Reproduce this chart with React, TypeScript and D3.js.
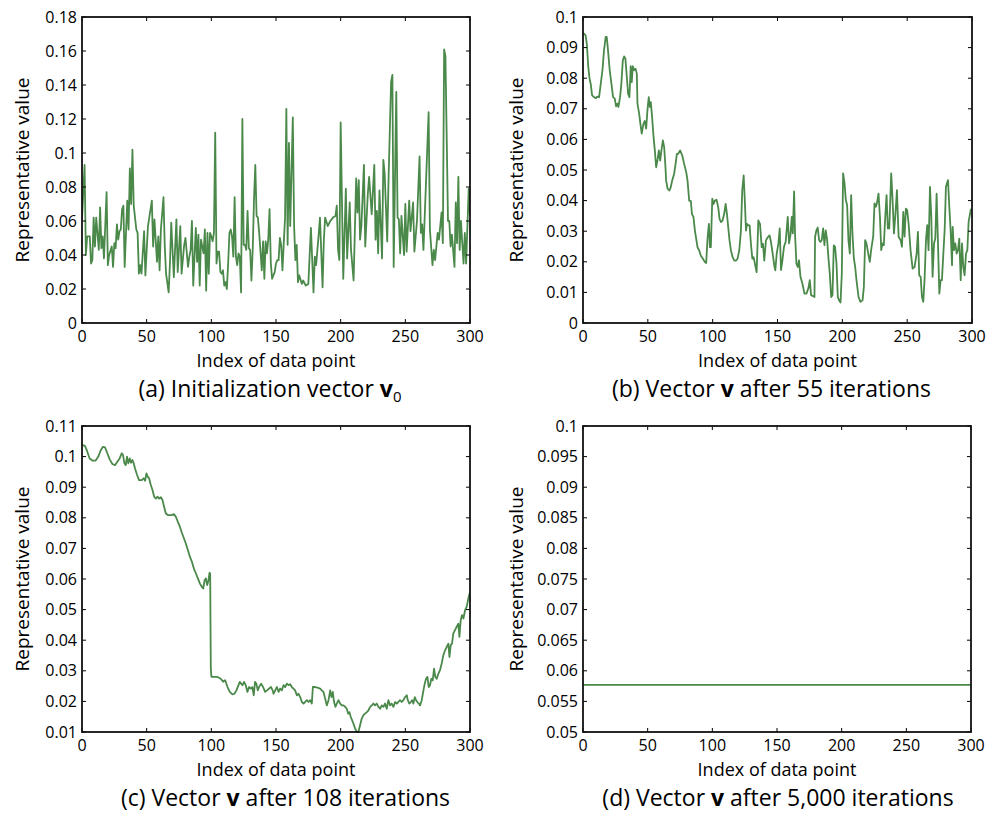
import React from "react";
import * as d3 from "d3";

// ---------- data ----------
const xTicks = [0, 50, 100, 150, 200, 250, 300];
const yTicksA = [0, 0.02, 0.04, 0.06, 0.08, 0.1, 0.12, 0.14, 0.16, 0.18];
const yTicksB = [0, 0.01, 0.02, 0.03, 0.04, 0.05, 0.06, 0.07, 0.08, 0.09, 0.1];
const yTicksC = [0.01, 0.02, 0.03, 0.04, 0.05, 0.06, 0.07, 0.08, 0.09, 0.1, 0.11];
const yTicksD = [0.05, 0.055, 0.06, 0.065, 0.07, 0.075, 0.08, 0.085, 0.09, 0.095, 0.1];

// (a) initialization vector v0  [index, value]
const seriesA: [number, number][] = [
  [0,0.061],[2,0.093],[3,0.040],[4,0.051],[6,0.051],[7,0.035],[8,0.037],[9,0.062],[10,0.045],[11,0.062],
  [13,0.043],[14,0.068],[15,0.044],[16,0.051],[17,0.038],[19,0.077],[20,0.034],[21,0.040],[23,0.045],[24,0.033],
  [25,0.047],[26,0.044],[27,0.058],[28,0.049],[29,0.054],[30,0.055],[31,0.067],[32,0.069],[33,0.033],[35,0.072],
  [36,0.055],[37,0.091],[38,0.070],[39,0.102],[40,0.069],[42,0.055],[43,0.053],[44,0.029],[45,0.034],[46,0.029],
  [48,0.054],[49,0.028],[51,0.057],[53,0.067],[54,0.072],[55,0.045],[56,0.061],[58,0.036],[59,0.051],[60,0.031],
  [61,0.055],[63,0.074],[64,0.045],[65,0.029],[67,0.018],[68,0.035],[69,0.059],[71,0.027],[73,0.061],[74,0.030],
  [76,0.057],[77,0.029],[79,0.046],[80,0.050],[82,0.033],[83,0.039],[84,0.043],[85,0.060],[86,0.022],[88,0.056],
  [89,0.036],[90,0.052],[91,0.022],[92,0.049],[94,0.041],[95,0.055],[96,0.019],[97,0.053],[98,0.029],[99,0.053],
  [100,0.051],[101,0.048],[102,0.053],[103,0.112],[104,0.035],[105,0.042],[106,0.042],[107,0.030],[108,0.029],[109,0.031],
  [110,0.022],[111,0.024],[112,0.020],[113,0.035],[114,0.053],[115,0.055],[116,0.051],[117,0.039],[118,0.074],[119,0.039],
  [120,0.034],[121,0.041],[122,0.039],[123,0.018],[124,0.120],[125,0.046],[126,0.046],[127,0.043],[128,0.066],[129,0.044],
  [130,0.043],[131,0.025],[132,0.043],[133,0.073],[134,0.093],[135,0.063],[136,0.062],[137,0.053],[139,0.031],[140,0.048],
  [141,0.026],[142,0.048],[143,0.041],[144,0.049],[145,0.067],[146,0.035],[147,0.026],[148,0.028],[149,0.030],[150,0.035],
  [151,0.037],[152,0.037],[153,0.050],[154,0.046],[155,0.031],[156,0.047],[157,0.062],[158,0.126],[159,0.046],[160,0.106],
  [161,0.057],[163,0.121],[164,0.057],[165,0.037],[166,0.046],[167,0.024],[168,0.028],[170,0.023],[171,0.025],[173,0.022],
  [175,0.023],[177,0.056],[179,0.018],[180,0.039],[181,0.034],[183,0.052],[184,0.062],[186,0.021],[187,0.049],[188,0.062],
  [190,0.057],[192,0.060],[194,0.062],[196,0.063],[197,0.069],[198,0.043],[199,0.037],[200,0.118],[202,0.026],[204,0.079],
  [205,0.038],[207,0.071],[208,0.043],[209,0.034],[210,0.025],[212,0.085],[213,0.065],[214,0.084],[215,0.049],[216,0.057],
  [218,0.093],[219,0.045],[221,0.076],[222,0.086],[224,0.064],[226,0.093],[227,0.049],[228,0.066],[229,0.041],[230,0.078],
  [232,0.038],[233,0.096],[234,0.088],[236,0.048],[237,0.084],[239,0.142],[240,0.146],[241,0.033],[243,0.136],[244,0.062],
  [245,0.061],[246,0.041],[247,0.063],[249,0.040],[250,0.070],[251,0.042],[253,0.072],[254,0.054],[256,0.071],[257,0.042],
  [259,0.060],[261,0.098],[262,0.053],[263,0.058],[264,0.043],[266,0.083],[268,0.124],[269,0.055],[271,0.034],[272,0.043],
  [273,0.037],[275,0.053],[276,0.049],[278,0.065],[279,0.047],[280,0.161],[281,0.157],[283,0.060],[284,0.060],[285,0.045],
  [286,0.052],[288,0.033],[289,0.071],[290,0.047],[291,0.086],[292,0.043],[293,0.060],[295,0.035],[296,0.053],[297,0.035],
  [299,0.079],[300,0.063],
];

// (b) vector v after 55 iterations
const seriesB: [number, number][] = [
  [0,0.0947],[1,0.0945],[2,0.094],[3,0.091],[4,0.084],[5,0.080],[6,0.078],[7,0.0744],[8.5,0.0738],[10,0.0735],
  [11,0.074],[12.4,0.0738],[13.7,0.0782],[15,0.0826],[16.2,0.0891],[17.5,0.0935],[18.3,0.0935],[19.3,0.0891],[20.6,0.0826],[21.9,0.0782],
  [23.2,0.0738],[24.5,0.0733],[25.5,0.0708],[26.5,0.0717],[27.3,0.0706],[28.6,0.0738],[29.6,0.0782],[30.7,0.0858],[31.7,0.0871],[32.7,0.0864],
  [33.8,0.0804],[34.8,0.0749],[35.8,0.0738],[36.8,0.0839],[37.6,0.0787],[38.4,0.0839],[39.4,0.0826],[40.5,0.0831],[41.5,0.0815],[42,0.0717],
  [43.3,0.0684],[44.6,0.064],[45.3,0.0619],[46.6,0.0651],[47.6,0.066],[48.7,0.0635],[49.7,0.0695],[50.7,0.0738],[51.5,0.0706],[52.3,0.0722],
  [53.3,0.0673],[54.4,0.0608],[55.4,0.0564],[56.4,0.0509],[57.4,0.0531],[58.5,0.0564],[59.5,0.0531],[60.5,0.0564],[61.6,0.0597],[62.6,0.0575],
  [63.6,0.0509],[64.1,0.0466],[65.2,0.0439],[66.7,0.0433],[67.7,0.0444],[68.8,0.0466],[70.3,0.0488],[71.4,0.052],[72.4,0.0553],[73.4,0.0553],
  [74.9,0.0564],[76.5,0.0548],[78,0.052],[79.6,0.0493],[80.6,0.0466],[81.9,0.04],[83.2,0.0398],[84,0.0357],[85.2,0.0346],[86.3,0.0302],
  [87.3,0.0275],[88.3,0.0248],[89.6,0.0237],[90.9,0.022],[92.5,0.021],[94,0.0199],[95,0.0196],[96.1,0.028],[97.1,0.0324],[97.9,0.0248],
  [98.6,0.0248],[99.7,0.0406],[100.7,0.0389],[101.7,0.04],[103,0.0403],[104.3,0.0378],[105.3,0.034],[106.4,0.033],[107.6,0.0335],[108.9,0.0357],
  [110,0.0389],[111,0.0357],[112,0.0313],[113,0.027],[114.1,0.0237],[115.4,0.0215],[116.7,0.0204],[117.9,0.0204],[119.2,0.021],[120.5,0.0237],
  [121.8,0.0302],[122.8,0.0433],[123.9,0.0482],[124.9,0.0389],[125.7,0.0302],[126.4,0.0324],[127.5,0.0319],[128.5,0.0319],[129.5,0.0259],[130.6,0.021],
  [131.6,0.0215],[132.6,0.0193],[133.9,0.0166],[135.2,0.0335],[136.5,0.0324],[137.8,0.0248],[138.8,0.0259],[139.8,0.0204],[141.1,0.027],[142.4,0.028],
  [143.9,0.0286],[145,0.0264],[146.3,0.0226],[147.6,0.0185],[148.3,0.0172],[149.4,0.0227],[150.7,0.026],[151.7,0.0309],[152.7,0.0173],[153.8,0.0205],
  [155,0.0249],[156.3,0.0265],[157.9,0.0347],[158.9,0.026],[160,0.0287],[161,0.0347],[161.8,0.0293],[162.8,0.043],[163.5,0.0293],[164.6,0.0194],
  [165.6,0.0183],[166.6,0.0205],[167.7,0.0151],[169.2,0.0129],[170.8,0.0096],[172.3,0.0096],[173.8,0.0113],[174.9,0.014],[175.9,0.0091],[177.2,0.0088],
  [178.5,0.0085],[179,0.0282],[180,0.0303],[181,0.0312],[182.1,0.0271],[183.1,0.0265],[184.1,0.0271],[185.2,0.0309],[186.2,0.0254],[187.2,0.0303],
  [188.3,0.0271],[189.3,0.0211],[190.3,0.0162],[191.4,0.0085],[192.4,0.0091],[193.4,0.0254],[194.4,0.0249],[195.5,0.0194],[196.5,0.0085],[197.5,0.0074],
  [198.6,0.0067],[199.6,0.0162],[200.6,0.0489],[201.7,0.0456],[202.7,0.0402],[203.7,0.0385],[204.7,0.0271],[205.8,0.0227],[206.8,0.0418],[207.8,0.0293],
  [208.9,0.0211],[209.9,0.0183],[210.9,0.014],[212.5,0.0085],[214,0.0069],[215.6,0.0074],[216.6,0.0118],[217.6,0.0271],[218.6,0.026],[220.2,0.0222],
  [221.2,0.02],[222.2,0.0238],[223.8,0.0282],[224.8,0.0391],[225.9,0.038],[226.9,0.0396],[227.9,0.0423],[229,0.0347],[230,0.0238],[231,0.026],
  [232,0.0254],[233.1,0.0347],[234.1,0.0418],[235.1,0.0309],[236.2,0.0309],[237.7,0.0489],[238.7,0.0407],[239.8,0.0293],[240.8,0.0347],[242.1,0.0434],
  [243.4,0.0282],[244.9,0.0271],[246,0.0249],[247,0.0363],[248,0.0282],[249,0.0374],[250,0.0369],[251.1,0.0325],[252.6,0.0238],[254.2,0.0178],
  [255.7,0.0183],[257.3,0.0227],[258.3,0.0298],[259.3,0.0156],[260.4,0.0151],[261.4,0.0085],[262.4,0.0069],[263.4,0.014],[264.5,0.0271],[265.5,0.032],
  [266.5,0.0238],[267.6,0.0445],[268.6,0.0347],[269.6,0.0151],[270.7,0.026],[271.7,0.0276],[272.7,0.0423],[273.7,0.0271],[274.8,0.0096],[275.8,0.014],
  [276.8,0.014],[277.9,0.0227],[278.9,0.0303],[279.9,0.0445],[281.5,0.0467],[282.5,0.038],[283.5,0.0303],[284.6,0.0189],[285.1,0.0314],[286.1,0.0238],
  [287.1,0.026],[288.2,0.0227],[289.2,0.0238],[290.2,0.0276],[291.3,0.014],[292.3,0.026],[293.3,0.0183],[294.3,0.0156],[295.4,0.0227],[296.4,0.0238],
  [297.4,0.0331],[299,0.0369],[300,0.0374],
];

// (c) vector v after 108 iterations
const seriesC: [number, number][] = [
  [0,0.1038],[2.3,0.1035],[4.1,0.1016],[5.9,0.0994],[8,0.0987],[10.6,0.0987],[12.6,0.1],[14.4,0.102],[16.2,0.1032],[17.8,0.103],
  [19.6,0.1011],[21.4,0.0991],[23.5,0.0976],[25.5,0.0972],[27.3,0.0983],[29.1,0.0994],[30.7,0.1011],[31.7,0.1005],[32.8,0.0978],[33.8,0.0972],
  [34.8,0.1],[35.8,0.0978],[36.9,0.0994],[37.9,0.098],[39,0.0989],[40,0.0978],[41,0.0961],[42.6,0.094],[44.1,0.0923],[46.2,0.0923],
  [47.7,0.0929],[48.8,0.0921],[49.8,0.0945],[50.9,0.0934],[51.9,0.0929],[53.2,0.0907],[54.5,0.0891],[55.8,0.0869],[57.1,0.0863],[58.4,0.0869],
  [59.7,0.0863],[61,0.0867],[62.2,0.0858],[63.5,0.0836],[64.8,0.0814],[66.4,0.0809],[67.9,0.0809],[69.5,0.0809],[71,0.0812],[72.6,0.0803],
  [74.1,0.0787],[75.7,0.0771],[77.2,0.0751],[78.8,0.0733],[80.3,0.0716],[81.9,0.0694],[83.4,0.0673],[85,0.0656],[86.5,0.0634],[88.1,0.0618],
  [89.6,0.0602],[91.2,0.0585],[92.7,0.0574],[93.7,0.0569],[94.8,0.0596],[95.8,0.0602],[96.8,0.058],[97.8,0.0596],[98.6,0.062],[99.1,0.0618],
  [99.6,0.0307],[100.1,0.028],[102.2,0.028],[104.8,0.028],[107.3,0.0274],[109.1,0.0264],[110.7,0.0269],[112.5,0.0247],[114.3,0.0231],[116.3,0.0223],
  [117.9,0.0225],[119.4,0.0236],[121,0.0253],[122,0.0264],[123,0.0258],[124.1,0.0253],[125.3,0.0264],[126.6,0.0253],[127.9,0.0231],[129.2,0.0247],
  [130.5,0.0242],[131.7,0.0247],[132.8,0.022],[133.8,0.0264],[134.8,0.0258],[135.9,0.0236],[136.9,0.0247],[138.5,0.0258],[140,0.0247],[141.6,0.0231],
  [143.1,0.0236],[144.7,0.0242],[146.2,0.0247],[147.4,0.0236],[148.1,0.0225],[149.4,0.0236],[150.7,0.0247],[152,0.0231],[153.2,0.0242],[154.5,0.0236],
  [155.8,0.0253],[157.1,0.0247],[158.4,0.0258],[159.7,0.0253],[161,0.0256],[162.2,0.0247],[163.5,0.0242],[164.8,0.0236],[166.1,0.022],[167.4,0.0225],
  [168.7,0.0214],[170,0.0198],[171.3,0.0193],[172.5,0.0198],[173.8,0.0204],[175.1,0.0198],[176.4,0.0204],[177.7,0.0193],[178.5,0.0247],[180.3,0.0247],
  [182.1,0.0245],[184.1,0.0242],[185.4,0.0236],[186.7,0.0231],[188,0.0209],[189.3,0.0187],[190.6,0.0204],[191.9,0.0236],[192.9,0.0214],[193.9,0.0231],
  [194.9,0.0198],[196,0.0182],[197,0.0193],[198.3,0.0204],[199.6,0.0193],[200.9,0.0187],[202.2,0.0187],[203.5,0.0182],[204.7,0.0176],[205.8,0.016],
  [206.8,0.0165],[207.8,0.0149],[208.9,0.0138],[209.9,0.0127],[211.2,0.0111],[212.5,0.01],[213.7,0.01],[215,0.0122],[216.3,0.0144],[217.6,0.0155],
  [218.9,0.016],[220.2,0.0165],[221.5,0.0171],[222.8,0.0182],[224.1,0.0187],[225.3,0.0193],[226.6,0.0187],[227.9,0.0193],[229.2,0.0182],[230.5,0.0176],
  [231.8,0.0187],[233.1,0.0182],[234.3,0.0193],[235.6,0.0176],[236.9,0.0204],[238.2,0.0187],[239.5,0.0193],[240.8,0.0182],[242.1,0.0198],[243.4,0.0193],
  [244.6,0.0198],[245.9,0.0204],[247.2,0.0198],[248.5,0.0204],[249.8,0.0214],[251.1,0.022],[251.9,0.0204],[253.1,0.0193],[254.2,0.0198],[255.2,0.0204],
  [256.2,0.0193],[257.3,0.0214],[258.3,0.0204],[259.3,0.0198],[260.4,0.0193],[261.4,0.0187],[262.7,0.0204],[264,0.0236],[265,0.0258],[266,0.0274],
  [267.1,0.028],[268.1,0.0247],[269.1,0.0253],[270.1,0.0274],[271.2,0.0269],[272.2,0.0307],[273.2,0.028],[274.3,0.0274],[275.6,0.0291],[276.8,0.0302],
  [278.1,0.0324],[279.4,0.0351],[280.7,0.0367],[282,0.0378],[283.3,0.0389],[284.1,0.0345],[285.1,0.0384],[286.1,0.0389],[287.1,0.0422],[288.4,0.0433],
  [289.7,0.0444],[291,0.0454],[291.8,0.0411],[292.8,0.0465],[293.8,0.0482],[294.9,0.0471],[296.2,0.0498],[297.4,0.0509],[298.7,0.0536],[300,0.0558],
];

// (d) vector v after 5,000 iterations (converged, constant)
const seriesD: [number, number][] = [[0, 0.0577], [300, 0.0577]];

const captionA = ["(a) Initialization vector ", "v", "0"];
const captionB = ["(b) Vector ", "v", " after 55 iterations"];
const captionC = ["(c) Vector ", "v", " after 108 iterations"];
const captionD = ["(d) Vector ", "v", " after 5,000 iterations"];

const xLabel = "Index of data point";
const yLabel = "Representative value";

// ---------- drawing ----------
const FONT = "'Open Sans', 'Noto Sans', sans-serif";
const GREEN = "#4b894b";
const fmt = d3.format("~g");

type PanelProps = {
  id: string;
  left: number;
  top: number;
  width: number;
  height: number;
  yDomain: [number, number];
  yTicks: number[];
  data: [number, number][];
  caption: React.ReactNode;
  captionX: number;
  yLabelOffset: number;
};

function Panel({ id, left, top, width, height, yDomain, yTicks, data, caption, captionX, yLabelOffset }: PanelProps) {
  const xs = d3.scaleLinear().domain([0, 300]).range([left, left + width]);
  const ys = d3.scaleLinear().domain(yDomain).range([top + height, top]);
  const line = d3
    .line<[number, number]>()
    .x((d) => xs(d[0]))
    .y((d) => ys(d[1]));
  const bottom = top + height;
  const right = left + width;
  const tl = 4;
  return (
    <g>
      <defs>
        <clipPath id={`clip-${id}`}>
          <rect x={left} y={top - 1} width={width} height={height + 2} />
        </clipPath>
      </defs>
      <path
        d={line(data) || ""}
        fill="none"
        stroke={GREEN}
        strokeWidth={1.8}
        strokeLinejoin="round"
        clipPath={`url(#clip-${id})`}
      />
      {xTicks.map((t) => (
        <g key={`x${t}`}>
          <line x1={xs(t)} x2={xs(t)} y1={bottom} y2={bottom - tl} stroke="#000" strokeWidth={1} />
          <line x1={xs(t)} x2={xs(t)} y1={top} y2={top + tl} stroke="#000" strokeWidth={1} />
          <text x={xs(t)} y={bottom + 19} textAnchor="middle" fontSize={16} fontFamily={FONT}>
            {t}
          </text>
        </g>
      ))}
      {yTicks.map((t) => (
        <g key={`y${t}`}>
          <line x1={left} x2={left + tl} y1={ys(t)} y2={ys(t)} stroke="#000" strokeWidth={1} />
          <line x1={right} x2={right - tl} y1={ys(t)} y2={ys(t)} stroke="#000" strokeWidth={1} />
          <text x={left - 5} y={ys(t) + 5.5} textAnchor="end" fontSize={16} fontFamily={FONT}>
            {fmt(t)}
          </text>
        </g>
      ))}
      <rect x={left} y={top} width={width} height={height} fill="none" stroke="#111" strokeWidth={1.8} />
      <text x={(left + right) / 2} y={bottom + 44} textAnchor="middle" fontSize={18} fontFamily={FONT}>
        {xLabel}
      </text>
      <text
        transform={`translate(${left - yLabelOffset},${(top + bottom) / 2}) rotate(-90)`}
        textAnchor="middle"
        fontSize={19}
        fontFamily={FONT}
      >
        {yLabel}
      </text>
      <text x={captionX} y={bottom + 74} textAnchor="middle" fontSize={23} fontFamily={FONT}>
        {caption}
      </text>
    </g>
  );
}

function Caption({ parts, sub }: { parts: string[]; sub?: boolean }) {
  return (
    <>
      <tspan>{parts[0]}</tspan>
      <tspan fontWeight="bold">{parts[1]}</tspan>
      {sub ? (
        <tspan fontSize={15} dy={5}>
          {parts[2]}
        </tspan>
      ) : (
        <tspan>{parts[2]}</tspan>
      )}
    </>
  );
}

export default function App() {
  return (
    <svg
      width={998}
      height={813}
      viewBox="0 0 998 813"
      style={{ position: "absolute", left: 0, top: 0, background: "#fff" }}
    >
      <rect x={0} y={0} width={998} height={813} fill="#fff" />
      <Panel
        id="a"
        left={82}
        top={17}
        width={388}
        height={306}
        yDomain={[0, 0.18]}
        yTicks={yTicksA}
        data={seriesA}
        caption={<Caption parts={captionA} sub />}
        captionX={270}
        yLabelOffset={53}
      />
      <Panel
        id="b"
        left={583}
        top={17}
        width={389}
        height={306}
        yDomain={[0, 0.1]}
        yTicks={yTicksB}
        data={seriesB}
        caption={<Caption parts={captionB} />}
        captionX={771.5}
        yLabelOffset={60}
      />
      <Panel
        id="c"
        left={82}
        top={426}
        width={388}
        height={306}
        yDomain={[0.01, 0.11]}
        yTicks={yTicksC}
        data={seriesC}
        caption={<Caption parts={captionC} />}
        captionX={285.5}
        yLabelOffset={53}
      />
      <Panel
        id="d"
        left={583}
        top={426}
        width={388}
        height={306}
        yDomain={[0.05, 0.1]}
        yTicks={yTicksD}
        data={seriesD}
        caption={<Caption parts={captionD} />}
        captionX={778}
        yLabelOffset={60}
      />
    </svg>
  );
}
